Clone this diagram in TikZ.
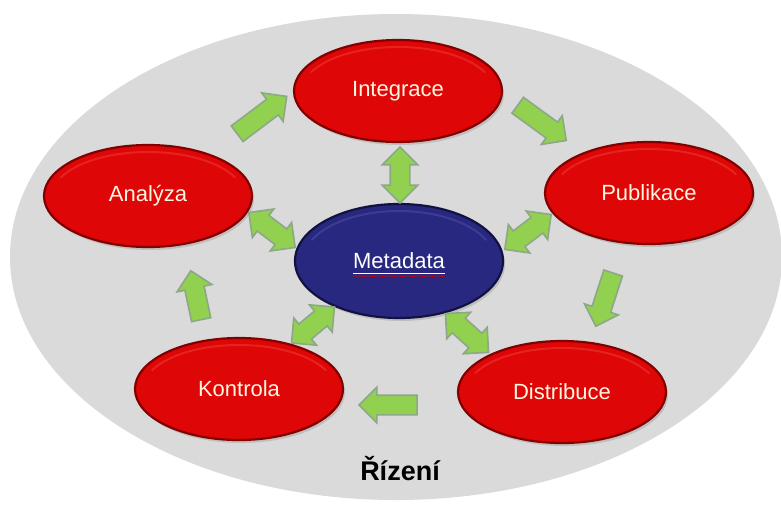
\documentclass[tikz,border=0pt]{standalone}
\usepackage{fontspec}
\setmainfont{Liberation Sans}
\usetikzlibrary{shapes.geometric,shapes.arrows,shadows,decorations.pathmorphing}

\definecolor{panelgray}{RGB}{218,218,218}
\definecolor{redbody}{RGB}{222,6,6}
\definecolor{redrim}{RGB}{130,0,0}
\definecolor{redglow}{RGB}{245,90,80}
\definecolor{navybody}{RGB}{40,40,128}
\definecolor{navyrim}{RGB}{18,18,65}
\definecolor{navyglow}{RGB}{100,100,185}
\definecolor{arrowfill}{RGB}{146,208,80}
\definecolor{arrowline}{RGB}{140,168,135}
\definecolor{labelcream}{RGB}{255,246,225}

\tikzset{
  stage/.style={ellipse, minimum width=208pt, minimum height=102pt, inner sep=0pt,
    fill=redbody, draw=redrim, line width=2.2pt, text=labelcream,
    font=\fontsize{22}{26}\selectfont,
    drop shadow={shadow xshift=2pt, shadow yshift=-3pt, opacity=0.3}},
  core/.style={stage, fill=navybody, draw=navyrim, text=white, minimum height=114pt},
  glow/.style={line width=2pt, line cap=round, opacity=0.35},
  flowarrow/.style={single arrow, draw=arrowline, fill=arrowfill, line width=1.6pt,
    single arrow head extend=8pt, single arrow head indent=0pt,
    inner xsep=0pt, inner ysep=9pt},
  linkarrow/.style={double arrow, draw=arrowline, fill=arrowfill, line width=1.6pt,
    double arrow head extend=8pt, double arrow head indent=0pt,
    inner xsep=0pt, inner ysep=9pt}
}

% light bevel along the upper inner edge of an ellipse node
\newcommand{\bevel}[4]{% node, half width, half height, colour
  \draw[glow, #4] ([shift={({(#2)*cos(205)},{(#3)*sin(205)})}]#1.center)
    arc[start angle=205, end angle=335, x radius=#2, y radius=#3];}

\begin{document}
\begin{tikzpicture}[x=1pt, y=-1pt]
  \useasboundingbox (0,0) rectangle (781,504);
  \fill[white] (0,0) rectangle (781,504);

  % governance area
  \fill[panelgray] (396,257) ellipse [x radius=386, y radius=243];
  \node (rizeni) at (400,469) {\fontsize{27}{31}\selectfont\bfseries Řízení};

  % process stages
  \node[stage] (integ) at (398,91)  {Integrace};
  \node[stage] (anal)  at (148,196) {Analýza};
  \node[stage] (publ)  at (649,193) {Publikace};
  \node[stage] (kontr) at (239,389) {Kontrola};
  \node[stage] (distr) at (562,392) {Distribuce};
  \node[core]  (meta)  at (399,261) {Metadata};

  \bevel{integ}{96}{44}{redglow}
  \bevel{anal}{96}{44}{redglow}
  \bevel{publ}{96}{44}{redglow}
  \bevel{kontr}{96}{44}{redglow}
  \bevel{distr}{96}{44}{redglow}
  \bevel{meta}{96}{50}{navyglow}

  % spelling squiggle under the core label
  \draw[white, line width=0.8pt] ([xshift=-46pt,yshift=-12pt]meta.center) -- ([xshift=46pt,yshift=-12pt]meta.center);
  \draw[red!80!black, line width=0.6pt, decorate,
        decoration={zigzag, segment length=2.5pt, amplitude=0.8pt}]
        ([xshift=-46pt,yshift=-15pt]meta.center) -- ([xshift=46pt,yshift=-15pt]meta.center);

  % cycle arrows
  \node[flowarrow, minimum height=62pt, rotate=37]   (a2i) at (258,118) {};
  \node[flowarrow, minimum height=60pt, rotate=-36]  (i2p) at (538,120) {};
  \node[flowarrow, minimum height=56pt, rotate=-108] (p2d) at (606,295) {};
  \node[flowarrow, minimum height=58pt, rotate=180]  (d2k) at (393,405) {};
  \node[flowarrow, minimum height=50pt, rotate=102]  (k2a) at (197,300) {};

  % links to the core
  \node[linkarrow, minimum height=56pt, rotate=90]  (im) at (400,175) {};
  \node[linkarrow, minimum height=58pt, rotate=-37] (am) at (272,230) {};
  \node[linkarrow, minimum height=58pt, rotate=37]  (pm) at (528,232) {};
  \node[linkarrow, minimum height=56pt, rotate=40]  (km) at (313,325) {};
  \node[linkarrow, minimum height=58pt, rotate=-42] (dm) at (467,333) {};
\end{tikzpicture}
\end{document}
